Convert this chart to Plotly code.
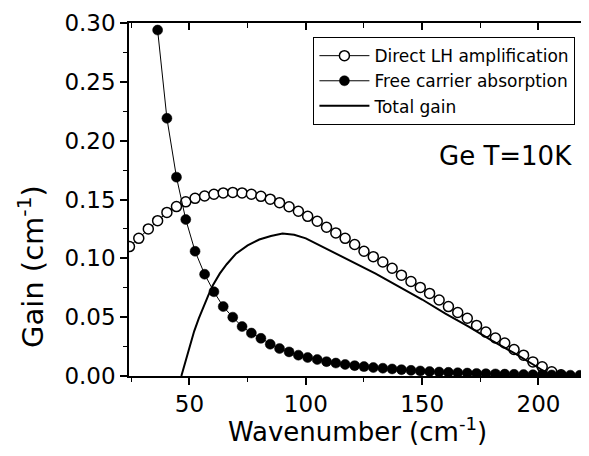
import plotly.graph_objects as go

# ---- data ----
direct_x = [24.2, 28.2, 32.3, 36.3, 40.3, 44.4, 48.4, 52.4, 56.5, 60.5, 64.5, 68.6, 72.6, 76.6,
            80.7, 84.7, 88.7, 92.8, 96.8, 100.8, 104.9, 108.9, 112.9, 116.9, 121.0, 125.0,
            129.0, 133.1, 137.1, 141.1, 145.2, 149.2, 153.2, 157.3, 161.3, 165.3, 169.4,
            173.4, 177.4, 181.5, 185.5, 189.5, 193.6, 197.6, 201.6, 205.7, 209.7]
direct_y = [0.110, 0.117, 0.125, 0.132, 0.139, 0.144, 0.148, 0.151, 0.153, 0.1545, 0.1556,
            0.156, 0.1556, 0.1545, 0.1527, 0.1503, 0.1473, 0.1438, 0.140, 0.1357, 0.1315,
            0.1264, 0.1216, 0.117, 0.1118, 0.106, 0.1014, 0.0969, 0.0916, 0.0857, 0.0803,
            0.0753, 0.0702, 0.0646, 0.059, 0.054, 0.0491, 0.043, 0.0373, 0.0323, 0.028,
            0.0225, 0.0177, 0.012, 0.0078, 0.0036, 0.001]

free_x = [36.3, 40.3, 44.4, 48.4, 52.4, 56.5, 60.5, 64.5, 68.6, 72.6, 76.6, 80.7, 84.7, 88.7,
          92.8, 96.8, 100.8, 104.9, 108.9, 112.9, 116.9, 121.0, 125.0, 129.0, 133.1, 137.1,
          141.1, 145.2, 149.2, 153.2, 157.3, 161.3, 165.3, 169.4, 173.4, 177.4, 181.5, 185.5,
          189.5, 193.6, 197.6, 201.6, 205.7, 209.7, 213.7, 217.8]
free_y = [0.294, 0.219, 0.169, 0.133, 0.106, 0.0865, 0.0716, 0.059, 0.050, 0.042, 0.0365,
          0.032, 0.027, 0.0233, 0.0205, 0.0177, 0.0157, 0.0140, 0.0122, 0.0110, 0.0098,
          0.0088, 0.0080, 0.0072, 0.0066, 0.0060, 0.0054, 0.0048, 0.0043, 0.0038, 0.0034,
          0.0031, 0.0028, 0.0025, 0.0022, 0.0020, 0.0018, 0.0016, 0.0014, 0.0012, 0.0011,
          0.0010, 0.0009, 0.0008, 0.0007, 0.0006]

total_x = [46.5, 48, 50, 52, 54, 56, 58, 60, 63, 66, 70, 75, 80, 85, 90, 95, 100, 110, 120,
           130, 140, 150, 160, 170, 180, 190, 200, 205.5]
total_y = [0.0, 0.011, 0.025, 0.038, 0.049, 0.059, 0.068, 0.077, 0.087, 0.095, 0.104, 0.111,
           0.116, 0.119, 0.121, 0.120, 0.117, 0.107, 0.097, 0.087, 0.076, 0.065, 0.053,
           0.042, 0.030, 0.019, 0.007, 0.0]

x_ticks = [50, 100, 150, 200]
y_ticks = [0.00, 0.05, 0.10, 0.15, 0.20, 0.25, 0.30]
y_tick_labels = ["0.00", "0.05", "0.10", "0.15", "0.20", "0.25", "0.30"]

names = ["Direct LH amplification", "Free carrier absorption", "Total gain"]
x_title = "Wavenumber (cm<sup>-1</sup>)"
y_title = "Gain (cm<sup>-1</sup>)"
note = "Ge T=10K"

TICK_FONT = dict(family="DejaVu Sans", size=23, color="black")

fig = go.Figure()
fig.add_trace(go.Scatter(
    x=direct_x, y=direct_y, name=names[0], mode="lines+markers",
    line=dict(color="black", width=1),
    marker=dict(symbol="circle", size=10, color="white", line=dict(color="black", width=1.5)),
))
fig.add_trace(go.Scatter(
    x=free_x, y=free_y, name=names[1], mode="lines+markers",
    line=dict(color="black", width=1),
    marker=dict(symbol="circle", size=10, color="black", line=dict(color="black", width=0.5)),
))
fig.add_trace(go.Scatter(
    x=total_x, y=total_y, name=names[2], mode="lines", xaxis="x2",
    line=dict(color="black", width=2),
))

# the page body has an 8px default margin, so the figure is sized to fit inside the window
fig.update_layout(
    width=581, height=448,
    margin=dict(l=121, r=2, t=12, b=80),
    paper_bgcolor="white", plot_bgcolor="white",
    showlegend=True,
    legend=dict(
        x=0.979, xanchor="right", y=0.96, yanchor="top",
        bgcolor="white", bordercolor="black", borderwidth=1,
        font=dict(family="DejaVu Sans", size=17, color="black"),
        tracegroupgap=0, itemwidth=50,
    ),
    xaxis=dict(
        range=[24, 220], tickvals=x_ticks, showgrid=False, zeroline=False,
        showline=True, linecolor="black", linewidth=1.5, mirror=False,
        ticks="outside", ticklen=7, tickwidth=1.5, tickcolor="black",
        minor=dict(tick0=0, dtick=25, ticks="outside", ticklen=4, tickwidth=1.2, tickcolor="black"),
        tickfont=TICK_FONT, ticklabeloverflow="allow",
    ),
    xaxis2=dict(
        range=[24, 220], overlaying="x", side="top", anchor="y",
        tickvals=x_ticks, showgrid=False, zeroline=False, showticklabels=False,
        showline=True, linecolor="black", linewidth=1.5,
        ticks="inside", ticklen=7, tickwidth=1.5, tickcolor="black",
        minor=dict(tick0=0, dtick=25, ticks="inside", ticklen=5, tickwidth=1.2, tickcolor="black"),
    ),
    yaxis=dict(
        range=[0, 0.30], tickvals=y_ticks, ticktext=y_tick_labels,
        showgrid=False, zeroline=False,
        showline=True, linecolor="black", linewidth=1.5, mirror=True,
        ticks="outside", ticklen=7, tickwidth=1.5, tickcolor="black",
        minor=dict(tick0=0, dtick=0.025, ticks="outside", ticklen=4, tickwidth=1.2, tickcolor="black"),
        tickfont=TICK_FONT, ticklabeloverflow="allow",
    ),
    annotations=[
        dict(text=x_title, xref="paper", yref="paper", x=0.5, y=-0.154,
             xanchor="center", yanchor="middle", showarrow=False,
             font=dict(family="DejaVu Sans", size=26, color="black")),
        dict(text=y_title, xref="paper", yref="paper", x=-0.216, y=0.31,
             xanchor="center", yanchor="middle", textangle=-90, showarrow=False,
             font=dict(family="DejaVu Sans", size=29, color="black")),
        dict(text=note, xref="paper", yref="paper", x=0.826, y=0.624,
             xanchor="center", yanchor="middle", showarrow=False,
             font=dict(family="DejaVu Sans", size=26, color="black")),
    ],
)

fig.write_html("out.html")
